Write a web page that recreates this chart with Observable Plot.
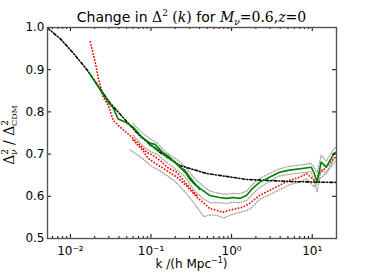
<!DOCTYPE html>
<html><head><meta charset="utf-8">
<script src="https://cdn.jsdelivr.net/npm/d3@7"></script>
<script src="https://cdn.jsdelivr.net/npm/@observablehq/plot@0.6"></script>
<style>body{margin:0;background:#fff}</style>
</head><body><div id="chart"></div>
<script>
// ---- data (k in h/Mpc, ratio Δ²ν/Δ²CDM) ----
const xTicks = [0.01, 0.1, 1, 10];
const xTickLabels = ["10\u207B\u00B2", "10\u207B\u00B9", "10\u2070", "10\u00B9"];
const yTicks = [0.5, 0.6, 0.7, 0.8, 0.9, 1.0];

const linearTheory = [[0.0052,0.999],[0.00753,0.973],[0.0109,0.939],[0.0162,0.899],[0.031,0.821],
  [0.071,0.745],[0.129,0.704],[0.228,0.673],[0.49,0.654],[1.53,0.640],[5.2,0.635],[17.1,0.633],[20,0.633]];

const greenLarge = [[0.0172,0.892],[0.0295,0.823],[0.034,0.809],[0.0392,0.783],[0.0478,0.776],[0.06,0.764],
  [0.0775,0.740],[0.0972,0.726],[0.112,0.723],[0.122,0.716],[0.149,0.697],[0.162,0.692],[0.198,0.681],
  [0.228,0.669],[0.263,0.662],[0.303,0.645],[0.349,0.631],[0.40,0.617]];
const greenSmall = [[0.095,0.722],[0.11,0.716],[0.135,0.705],[0.16,0.697],[0.19,0.684],[0.228,0.669],[0.27,0.655],
  [0.303,0.64],[0.36,0.626],[0.438,0.614],[0.535,0.602],[0.711,0.597],[0.867,0.595],[1.03,0.597],[1.256,0.595],
  [1.53,0.602],[1.82,0.619],[2.22,0.633],[2.95,0.645],[3.92,0.657],[5.2,0.662],[7.53,0.666],[9.73,0.669],
  [10.6,0.654],[11.5,0.633],[12.9,0.681],[14.9,0.669],[18.7,0.702],[20,0.705]];

const redLarge = [[0.01766,0.966],[0.0204,0.916],[0.0222,0.880],[0.0255,0.835],[0.0295,0.816],[0.034,0.780],
  [0.0414,0.764],[0.058,0.740],[0.073,0.721],[0.089,0.704],[0.106,0.697],[0.137,0.681],[0.157,0.669],
  [0.209,0.657],[0.285,0.626],[0.37,0.602]];
const redSmall = [[0.06,0.733],[0.079,0.709],[0.092,0.69],[0.12,0.675],[0.16,0.660],[0.21,0.645],[0.285,0.622],
  [0.37,0.598],[0.44,0.586],[0.535,0.571],[0.65,0.567],[0.77,0.562],[0.94,0.567],[1.15,0.571],[1.37,0.574],
  [1.67,0.583],[2.22,0.602],[2.95,0.614],[3.92,0.626],[5.2,0.638],[6.95,0.645],[8.5,0.654],[10.6,0.638],
  [12.3,0.654],[14.9,0.669],[18.7,0.690],[20,0.695]];

const greyUpper = [[0.06,0.772],[0.078,0.75],[0.1,0.735],[0.12,0.726],[0.15,0.705],[0.2,0.69],[0.26,0.672],
  [0.35,0.642],[0.44,0.625],[0.54,0.612],[0.7,0.607],[0.87,0.605],[1.03,0.607],[1.25,0.606],[1.53,0.612],
  [1.82,0.628],[2.2,0.642],[2.95,0.654],[3.9,0.665],[5.2,0.671],[7.5,0.675],[9.7,0.678],[10.6,0.668],
  [11.5,0.655],[12.9,0.697],[14.9,0.684],[18.7,0.713],[20,0.716]];
const greyMiddle = [[0.06,0.745],[0.078,0.72],[0.1,0.705],[0.12,0.7],[0.15,0.683],[0.2,0.665],[0.26,0.648],
  [0.35,0.612],[0.44,0.595],[0.54,0.585],[0.7,0.585],[0.87,0.583],[1.03,0.586],[1.25,0.585],[1.53,0.59],
  [1.82,0.605],[2.2,0.62],[2.95,0.635],[3.9,0.648],[5.2,0.652],[7.5,0.656],[9.7,0.658],[10.6,0.635],
  [11.5,0.61],[12.9,0.665],[14.9,0.655],[18.7,0.69],[20,0.693]];
const greyLower = [[0.055,0.71],[0.078,0.69],[0.1,0.672],[0.13,0.66],[0.16,0.648],[0.2,0.635],[0.28,0.605],
  [0.37,0.575],[0.45,0.552],[0.55,0.556],[0.65,0.555],[0.8,0.548],[0.95,0.555],[1.15,0.56],[1.4,0.564],
  [1.7,0.57],[2.2,0.592],[2.95,0.604],[3.9,0.615],[5.2,0.627],[7,0.634],[8.5,0.642],[10.6,0.622],
  [12.3,0.64],[14.9,0.655],[18.7,0.68],[20,0.684]];

// ---- layout ----
const W = 374, H = 280, mt = 27, mb = 42, ml = 47, mr = 38;
const innerH = H - mt - mb, innerW = W - ml - mr;
const xDomain = [0.0052, 20];
const minorX = [];
for (let e = -3; e <= 1; e++) for (let m = 2; m <= 9; m++) {
  const v = m * Math.pow(10, e);
  if (v > xDomain[0] && v < xDomain[1]) minorX.push(v);
}
const X = d => d[0], Y = d => d[1];
const grey = {x: X, y: Y, stroke: "#999", strokeWidth: 1.2, strokeDasharray: "1,1.6"};
const red = {x: X, y: Y, stroke: "#ff0000", strokeWidth: 1.8, strokeLinecap: "round", strokeDasharray: "0.1,3"};
const green = {x: X, y: Y, stroke: "#008000", strokeWidth: 1.6};

const svg = Plot.plot({
  width: W, height: H, marginTop: mt, marginBottom: mb, marginLeft: ml, marginRight: mr,
  style: {fontFamily: "DejaVu Sans", fontSize: "11px", background: "white", overflow: "visible"},
  x: {type: "log", domain: xDomain},
  y: {domain: [0.5, 1.0]},
  marks: [
    Plot.line(greyUpper, grey),
    Plot.line(greyMiddle, grey),
    Plot.line(greyLower, grey),
    Plot.line(redLarge, red),
    Plot.line(redSmall, red),
    Plot.line(linearTheory, {x: X, y: Y, stroke: "black", strokeWidth: 1.6, strokeDasharray: "3,2,1,2"}),
    Plot.line(greenLarge, green),
    Plot.line(greenSmall, green),
    Plot.tickX(xTicks, {x: d => d, insetTop: innerH - 4, stroke: "black"}),
    Plot.tickX(xTicks, {x: d => d, insetBottom: innerH - 4, stroke: "black"}),
    Plot.tickX(minorX, {x: d => d, insetTop: innerH - 2, stroke: "black"}),
    Plot.tickX(minorX, {x: d => d, insetBottom: innerH - 2, stroke: "black"}),
    Plot.tickY(yTicks, {y: d => d, insetRight: innerW - 4, stroke: "black"}),
    Plot.tickY(yTicks, {y: d => d, insetLeft: innerW - 4, stroke: "black"}),
    Plot.frame({stroke: "#555", strokeWidth: 1.4}),
    Plot.axisX(xTicks, {tickSize: 0, tickPadding: 8, fontSize: 12, label: null,
      tickFormat: d => xTickLabels[xTicks.indexOf(d)]}),
    Plot.axisY(yTicks, {tickSize: 0, tickPadding: 3, fontSize: 12, label: null,
      tickFormat: d => d.toFixed(1)})
  ]
});

const s = d3.select(svg);
const serif = "DejaVu Serif";
function addSpans(t, parts) {
  parts.forEach(p => {
    const ts = t.append("tspan").text(p.t);
    if (p.f) ts.style("font-family", p.f);
    if (p.i) ts.style("font-style", "italic");
    if (p.s) ts.style("font-size", p.s + "px");
    if (p.dy) ts.attr("dy", p.dy);
    if (p.dx) ts.attr("dx", p.dx);
  });
}
// title
const title = s.append("text").attr("x", ml + innerW / 2).attr("y", 22)
  .attr("text-anchor", "middle").style("font-size", "14px").style("font-family", "DejaVu Sans").attr("fill", "black");
addSpans(title, [
  {t: "Change in "}, {t: "\u0394", f: serif}, {t: "2", f: serif, s: 9, dy: -6},
  {t: " (", f: serif, dy: 6}, {t: "k", f: serif, i: true}, {t: ")", f: serif},
  {t: " for "}, {t: "M", f: serif, i: true}, {t: "\u03BD", f: serif, i: true, s: 9, dy: 3},
  {t: "=0.6,", f: serif, dy: -3}, {t: "z", f: serif, i: true}, {t: "=0", f: serif}
]);
// y label
const ylab = s.append("text").attr("transform", "translate(14,135) rotate(-90)")
  .attr("text-anchor", "middle").style("font-size", "14px").style("font-family", serif).attr("fill", "black");
addSpans(ylab, [
  {t: "\u0394"}, {t: "2", s: 9, dy: -6}, {t: "\u03BD", i: true, s: 9, dy: 9, dx: -6},
  {t: " / ", dy: -3}, {t: "\u0394"}, {t: "2", s: 9, dy: -6}, {t: "CDM", s: 8, dy: 9, dx: -6}
]);
// x label
const xlab = s.append("text").attr("x", ml + innerW / 2).attr("y", 268)
  .attr("text-anchor", "middle").style("font-size", "12px").style("font-family", "DejaVu Sans").attr("fill", "black");
addSpans(xlab, [{t: "k /(h Mpc"}, {t: "\u22121", s: 8, dy: -5}, {t: ")", dy: 5}]);

document.getElementById("chart").appendChild(svg);
</script>
</body></html>
